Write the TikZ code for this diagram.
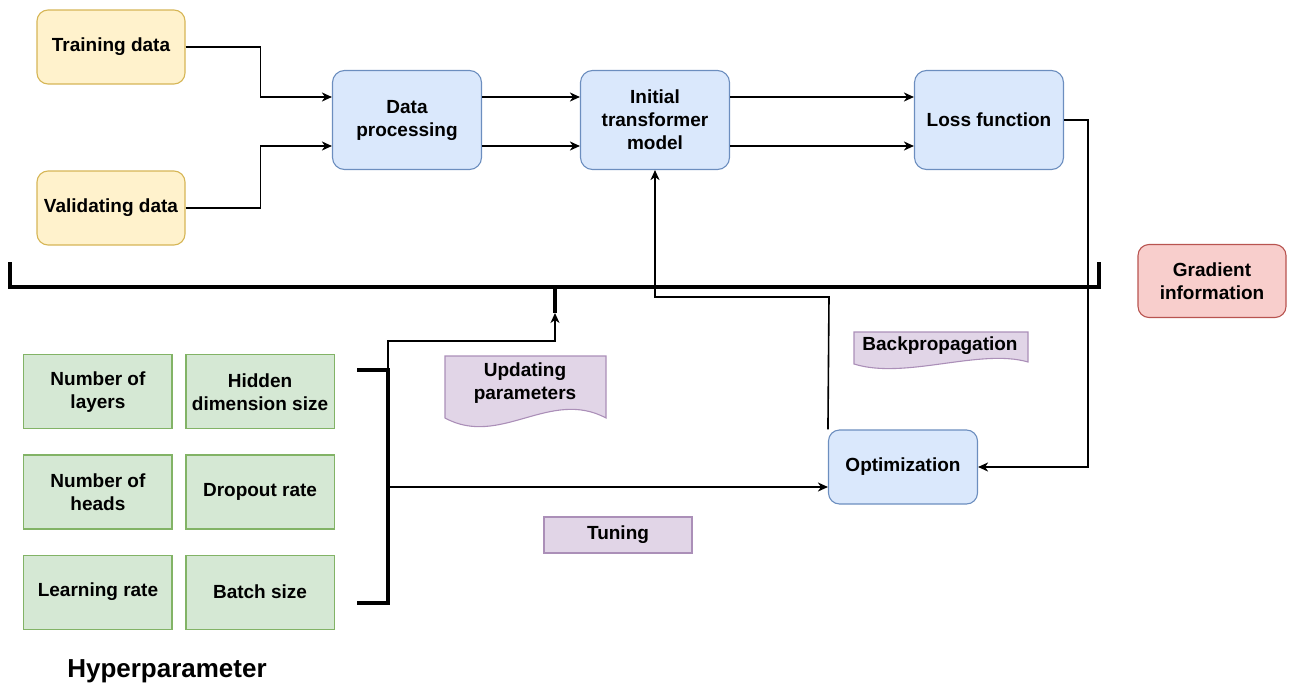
\documentclass[tikz,border=0pt]{standalone}
\usepackage{fontspec}
\setmainfont{Liberation Sans}
\usetikzlibrary{matrix,positioning,calc,arrows.meta}

\definecolor{ylwfill}{HTML}{FFF2CC}
\definecolor{ylwline}{HTML}{D6B656}
\definecolor{bluefill}{HTML}{DAE8FC}
\definecolor{blueline}{HTML}{6C8EBF}
\definecolor{grnfill}{HTML}{D5E8D4}
\definecolor{grnline}{HTML}{82B366}
\definecolor{redfill}{HTML}{F8CECC}
\definecolor{redline}{HTML}{B85450}
\definecolor{purfill}{HTML}{E1D5E7}
\definecolor{purline}{HTML}{9673A6}

\tikzset{
  box/.style={draw, line width=1.1pt, align=center, inner sep=1pt,
    font=\fontsize{19}{23}\selectfont\bfseries},
  databox/.style={box, rounded corners=11pt, fill=ylwfill, draw=ylwline,
    minimum width=148pt, minimum height=74pt},
  stagebox/.style={box, rounded corners=12pt, fill=bluefill, draw=blueline,
    minimum width=149pt, minimum height=99pt},
  optbox/.style={stagebox, minimum height=74pt, rounded corners=11pt},
  gradbox/.style={box, rounded corners=11pt, fill=redfill, draw=redline,
    minimum width=148pt, minimum height=73pt},
  hpbox/.style={box, fill=grnfill, draw=grnline,
    minimum width=148pt, minimum height=74pt},
  tagbox/.style={box, fill=purfill, draw=purline!80,
    minimum width=148pt, minimum height=36pt},
  doctext/.style={align=center, font=\fontsize{19}{23}\selectfont\bfseries},
  docshape/.style={fill=purfill, draw=purline!80, line width=1.1pt},
  conn/.style={-{Stealth[length=10pt, width=9pt, inset=3pt]}, line width=1.6pt},
  bracket/.style={line width=3.2pt}
}

\begin{document}
\begin{tikzpicture}[x=1pt, y=-1pt]
  \useasboundingbox (0,0) rectangle (1291,688);

  % inputs and main stages
  \node[databox] (train) at (111,47) {Training data};
  \node[databox] (valid) at (111,208) {Validating data};
  \node[stagebox] (proc) at (407,120) {Data\\processing};
  \node[stagebox] (model) at (655,120) {Initial\\transformer\\model};
  \node[stagebox] (loss) at (989,120) {Loss function};
  \node[gradbox] (grad) at (1212,281) {Gradient\\information};
  \node[optbox] (optim) at (903,467) {Optimization};

  % hyperparameters
  \matrix (hyper) [column sep=13pt, row sep=25pt] at (179,492)
  {
    \node[hpbox] (layers) {Number of\\layers};   & \node[hpbox] (hidden) {Hidden\\dimension size}; \\
    \node[hpbox] (heads) {Number of\\heads};     & \node[hpbox] (dropout) {Dropout rate}; \\
    \node[hpbox] (lrate) {Learning rate};        & \node[hpbox] (batch) {Batch size}; \\
  };
  \node[font=\fontsize{26}{30}\selectfont\bfseries] (hyptitle) at (167,671) {Hyperparameter};

  % labels
  \draw[docshape] (445,356) -- (606,356) -- (606,418)
    .. controls (550,388) and (500,448) .. (445,418) -- cycle;
  \node[doctext] (update) at (525,383) {Updating\\parameters};
  \draw[docshape] (854,332) -- (1028,332) -- (1028,362)
    .. controls (980,348) and (905,380) .. (854,364) -- cycle;
  \node[doctext] (backprop) at (940,346) {Backpropagation};
  \node[tagbox] (tuning) at (618,535) {Tuning};

  % data flow
  \draw[conn] (train.east) -- ++(75,0) |- ($(proc.west)+(0,-23)$);
  \draw[conn] (valid.east) -- ++(75,0) |- ($(proc.west)+(0,26)$);
  \foreach \dy in {-23, 26} {
    \draw[conn] ($(proc.east)+(0,\dy)$) -- ($(model.west)+(0,\dy)$);
    \draw[conn] ($(model.east)+(0,\dy)$) -- ($(loss.west)+(0,\dy)$);
  };
  \draw[conn] (loss.east) -- ++(24,0) |- (optim.east);
  \coordinate (bend) at (829,297);
  \draw[conn] (optim.north west) -- (bend) -| (model.south);

  % brackets
  \coordinate (stem) at (555,313);
  \coordinate (brtop) at (388,370);
  \coordinate (brmid) at (388,487);
  \coordinate (brbot) at (388,603);
  \draw[bracket] (10,262) -- (10,287) -- (1099,287) -- (1099,262);
  \draw[bracket] (555,287) -- (stem);
  \draw[bracket] (357,370) -- (brtop) -- (brbot) -- (357,603);
  \draw[conn] (brtop) -- ++(0,-29) -| (stem);
  \draw[conn] (brmid) -- (brmid -| optim.west);
\end{tikzpicture}
\end{document}
